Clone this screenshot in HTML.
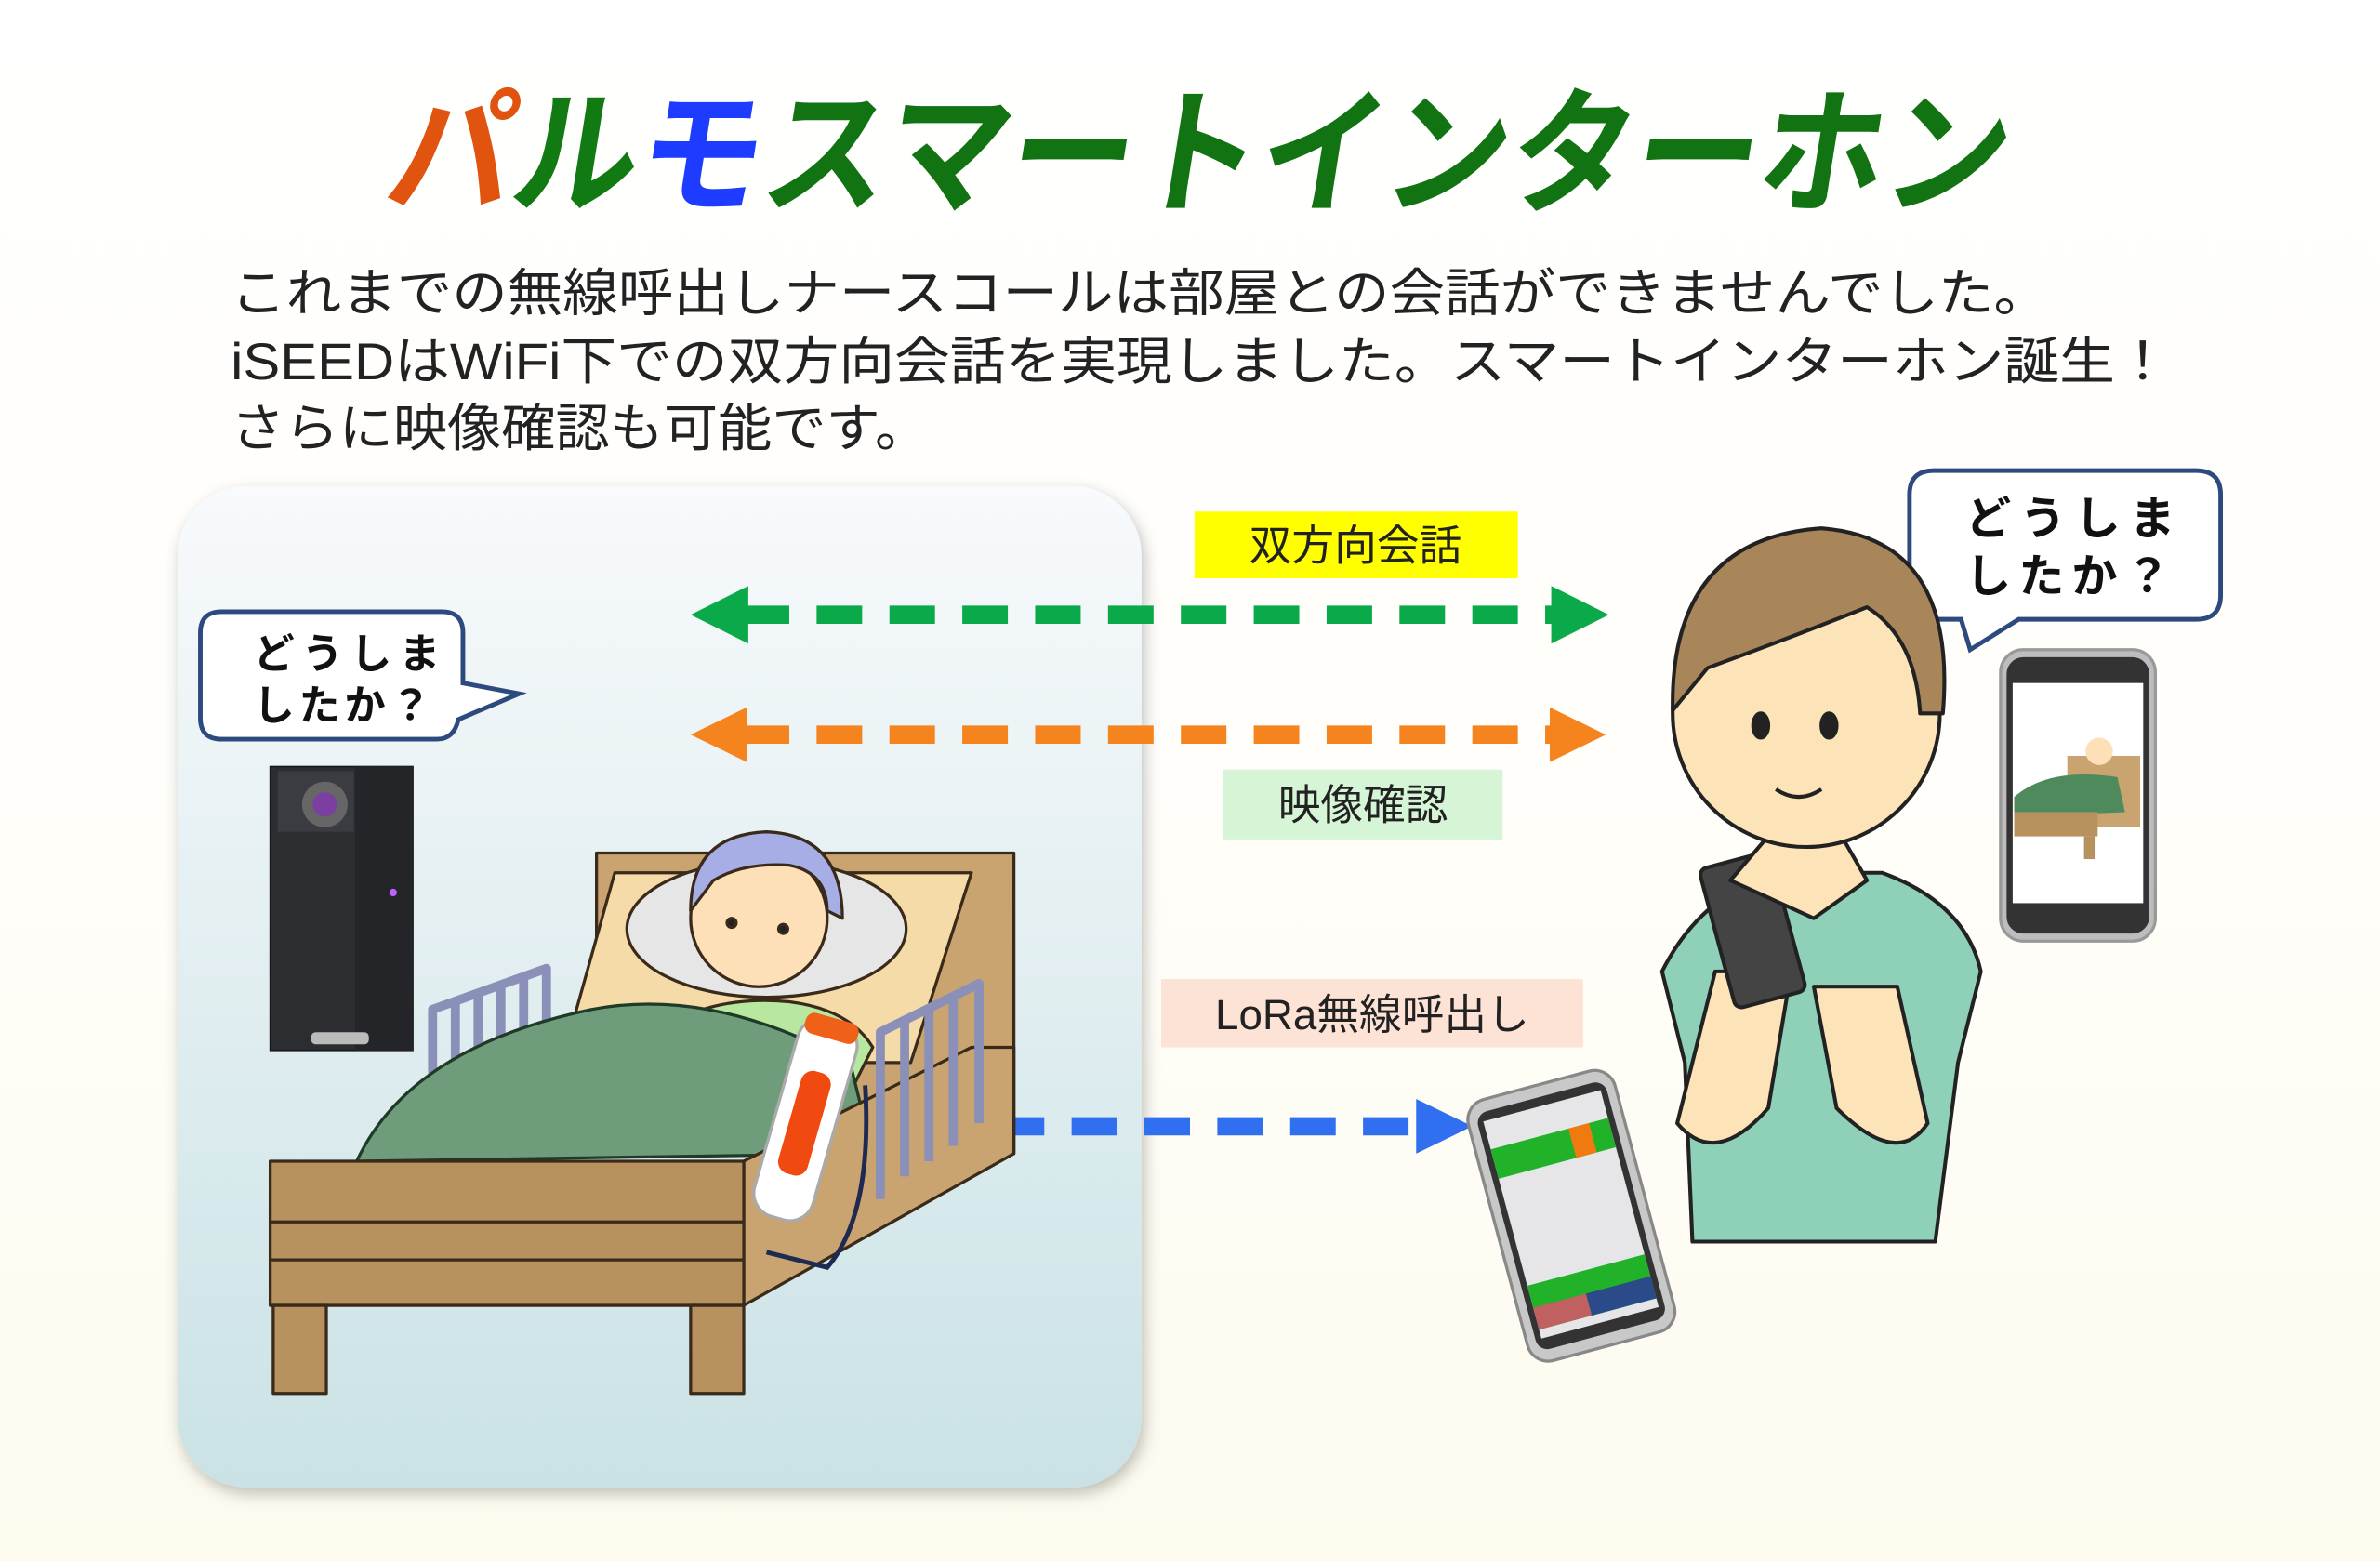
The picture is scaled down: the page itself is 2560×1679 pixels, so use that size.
<!DOCTYPE html>
<html><head><meta charset="utf-8"><style>
html,body{margin:0;padding:0;}
body{width:2560px;height:1679px;overflow:hidden;background:linear-gradient(#ffffff 0%,#fffefa 50%,#fdfbee 100%);}
svg{display:block;}
text{font-family:"Liberation Sans","Noto Sans CJK JP",sans-serif;}
</style></head><body>
<svg width="2560" height="1679" viewBox="0 0 1568 1028.4" preserveAspectRatio="none" xmlns="http://www.w3.org/2000/svg">
<defs>
<linearGradient id="pg" x1="0" y1="0" x2="0" y2="1"><stop offset="0" stop-color="#f8fafc"/><stop offset="1" stop-color="#cae2e5"/></linearGradient>
<filter id="sh" x="-10%" y="-10%" width="120%" height="120%"><feDropShadow dx="2" dy="4" stdDeviation="5" flood-color="#000" flood-opacity="0.25"/></filter>
</defs>

<!-- Title -->
<g transform="skewX(-9) translate(21,0)">
<text x="252" y="133" font-size="90" font-weight="bold" textLength="1068" lengthAdjust="spacingAndGlyphs"><tspan fill="#e0540f">パ</tspan><tspan fill="#127a12">ル</tspan><tspan fill="#1e3cff">モ</tspan><tspan fill="#127312">スマートインターホン</tspan></text>
</g>

<!-- paragraph -->
<g font-size="34" fill="#222">
<text x="152" y="205" textLength="1198" lengthAdjust="spacingAndGlyphs">これまでの無線呼出しナースコールは部屋との会話ができませんでした。</text>
<text x="152" y="250" textLength="1278" lengthAdjust="spacingAndGlyphs">iSEEDはWiFi下での双方向会話を実現しました。スマートインターホン誕生！</text>
<text x="152" y="294" textLength="460" lengthAdjust="spacingAndGlyphs">さらに映像確認も可能です。</text>
</g>

<!-- panel -->
<rect x="117" y="320" width="635" height="660" rx="46" fill="url(#pg)" filter="url(#sh)"/>

<!-- arrows -->
<line x1="490" y1="405" x2="1028" y2="405" stroke="#0aaa4a" stroke-width="12" stroke-dasharray="30 18"/>
<polygon points="455,405 493,386 493,424" fill="#0aaa4a"/>
<polygon points="1060,405 1022,386 1022,424" fill="#0aaa4a"/>
<line x1="490" y1="484" x2="1025" y2="484" stroke="#f5841f" stroke-width="12" stroke-dasharray="30 18"/>
<polygon points="455,484 492,466 492,502" fill="#f5841f"/>
<polygon points="1058,484 1021,466 1021,502" fill="#f5841f"/>
<line x1="610" y1="742" x2="935" y2="742" stroke="#2f6ff0" stroke-width="12" stroke-dasharray="30 18"/>
<polygon points="970,742 933,724 933,760" fill="#2f6ff0"/>

<!-- labels -->
<rect x="787" y="337" width="213" height="44" fill="#ffff00"/>
<text x="893" y="369" font-size="28" text-anchor="middle" fill="#222">双方向会話</text>
<rect x="806" y="507" width="184" height="46" fill="#d6f4d6"/>
<text x="898" y="540" font-size="28" text-anchor="middle" fill="#222">映像確認</text>
<rect x="765" y="645" width="278" height="45" fill="#fde2d6"/>
<text x="904" y="678" font-size="28" text-anchor="middle" fill="#222">LoRa無線呼出し</text>

<!-- left bubble -->
<path d="M146,403 H291 Q305,403 305,417 V450 L342,457 L302,474 Q299,487 288,487 H146 Q132,487 132,473 V417 Q132,403 146,403 Z" fill="#fff" stroke="#2c4a7e" stroke-width="3"/>
<g font-size="27" font-weight="bold" fill="#111"><text x="167" y="440" letter-spacing="5">どうしま</text><text x="167" y="474" letter-spacing="3">したか？</text></g>

<!-- right bubble -->
<path d="M1274,310 H1447 Q1463,310 1463,326 V392 Q1463,408 1447,408 H1330 L1298,428 L1292,408 H1274 Q1258,408 1258,392 V326 Q1258,310 1274,310 Z" fill="#fff" stroke="#2c4a7e" stroke-width="3"/>
<g font-size="30" font-weight="bold" fill="#111"><text x="1295" y="352" letter-spacing="6">どうしま</text><text x="1295" y="390" letter-spacing="5">したか？</text></g>

<!-- intercom -->
<rect x="178" y="505" width="94" height="187" fill="#2b2d31" stroke="#1a1a1a"/>
<rect x="234" y="505" width="38" height="187" fill="#232529"/>
<rect x="183" y="508" width="50" height="40" fill="#3a3c42"/>
<circle cx="214" cy="530" r="15" fill="#666"/><circle cx="214" cy="530" r="8" fill="#7a3fa0"/>
<circle cx="259" cy="588" r="2.5" fill="#c060ff"/>
<rect x="205" y="680" width="38" height="8" rx="3" fill="#bbb"/>

<!-- bed -->
<g stroke="#3a2a1a" stroke-width="2" stroke-linejoin="round">
<rect x="393" y="562" width="275" height="198" fill="#c9a470"/>
<polygon points="405,575 640,575 600,700 370,700" fill="#f4dba8"/>
<ellipse cx="505" cy="612" rx="92" ry="45" fill="#e6e6e6"/>
<g fill="none" stroke="#8a90b8" stroke-width="6"><path d="M285,720 V665 L360,638 V705"/><line x1="300" y1="660" x2="300" y2="715"/><line x1="315" y1="655" x2="315" y2="712"/><line x1="330" y1="650" x2="330" y2="710"/><line x1="345" y1="644" x2="345" y2="708"/></g>
<path d="M430,680 Q470,655 520,660 Q560,665 575,690 L560,720 L440,720 Z" fill="#b8e8a0"/>
<circle cx="500" cy="605" r="45" fill="#fde0b8"/>
<path d="M455,600 Q455,550 505,548 Q555,550 555,605 L545,600 Q545,575 520,570 Q490,568 470,580 Z" fill="#a7aee6"/>
<circle cx="482" cy="608" r="3" fill="#222"/><circle cx="516" cy="612" r="3" fill="#222"/>
<path d="M235,765 Q270,690 390,665 Q470,650 560,700 L575,760 Z" fill="#6f9d7c" stroke="#1f3a26"/>
<polygon points="490,765 640,690 668,690 668,760 490,860" fill="#c9a470"/>
<rect x="178" y="765" width="312" height="95" fill="#b8925e"/>
<line x1="178" y1="805" x2="490" y2="805"/><line x1="178" y1="830" x2="490" y2="830"/>
<rect x="180" y="860" width="35" height="58" fill="#b8925e"/>
<rect x="455" y="860" width="35" height="58" fill="#b8925e"/>
<g fill="none" stroke="#8a90b8" stroke-width="6"><path d="M580,790 V680 L645,648 V740"/><line x1="596" y1="672" x2="596" y2="775"/><line x1="612" y1="664" x2="612" y2="765"/><line x1="628" y1="656" x2="628" y2="755"/></g>
</g>
<g transform="rotate(16,530,740)">
<rect x="510" y="670" width="40" height="135" rx="16" fill="#fff" stroke="#aaa" stroke-width="2"/>
<rect x="512" y="668" width="36" height="14" rx="6" fill="#f06018"/>
<rect x="520" y="705" width="20" height="70" rx="8" fill="#f04a10"/>
</g>
<path d="M570,715 Q575,800 545,835 L505,825" fill="none" stroke="#1f2a50" stroke-width="3"/>

<!-- tilted phone -->
<g transform="rotate(-15,1035,800)">
<rect x="985" y="712" width="100" height="178" rx="14" fill="#c8c8c8" stroke="#888" stroke-width="2"/>
<rect x="991" y="720" width="88" height="162" rx="8" fill="#333"/>
<rect x="995" y="726" width="80" height="148" fill="#e6e6e8"/>
<rect x="995" y="745" width="80" height="20" fill="#22b22a"/>
<rect x="1048" y="745" width="14" height="20" fill="#f07a10"/>
<rect x="995" y="838" width="80" height="30" fill="#22b22a"/>
<rect x="995" y="853" width="36" height="15" fill="#c06060"/>
<rect x="1031" y="853" width="44" height="15" fill="#2a4a8a"/>
</g>

<!-- nurse -->
<g stroke="#222" stroke-width="2.5" stroke-linejoin="round">
<path d="M1095,640 Q1120,590 1170,575 L1240,575 Q1295,595 1305,640 L1290,700 L1275,818 H1115 L1110,700 Z" fill="#8fd0b8"/>
<path d="M1130,640 L1105,740 Q1130,770 1165,730 L1180,640 Z" fill="#fde4b8"/>
<path d="M1250,650 L1270,740 Q1250,770 1210,730 L1195,650 Z" fill="#fde4b8"/>
<rect x="1130" y="565" width="48" height="95" rx="5" fill="#444" transform="rotate(-15,1155,610)"/>
<path d="M1140,580 L1170,545 L1210,545 L1230,580 L1195,605 Z" fill="#fde4b8"/>
<circle cx="1190" cy="470" r="88" fill="#fde4b8"/>
<path d="M1102,468 Q1100,355 1200,348 Q1290,355 1280,470 L1265,470 Q1262,420 1230,400 Q1180,420 1125,440 Z" fill="#a9865a"/>
<ellipse cx="1160" cy="478" rx="5" ry="8" fill="#222"/><ellipse cx="1205" cy="478" rx="5" ry="8" fill="#222"/>
<path d="M1170,520 Q1185,530 1200,520" fill="none"/>
</g>

<!-- right phone -->
<rect x="1318" y="428" width="102" height="192" rx="15" fill="#bdbdbd" stroke="#999" stroke-width="2"/>
<rect x="1322" y="433" width="94" height="182" rx="11" fill="#333"/>
<rect x="1326" y="450" width="86" height="145" fill="#fff"/>
<polygon points="1362,498 1410,498 1410,545 1362,545" fill="#c9a470"/>
<circle cx="1383" cy="495" r="9" fill="#fde0b8"/>
<path d="M1327,525 Q1350,505 1395,512 L1400,535 L1327,538 Z" fill="#4f8a5c"/>
<rect x="1327" y="535" width="55" height="16" fill="#b8925e"/>
<rect x="1373" y="551" width="7" height="15" fill="#b8925e"/>
</svg>
</body></html>
